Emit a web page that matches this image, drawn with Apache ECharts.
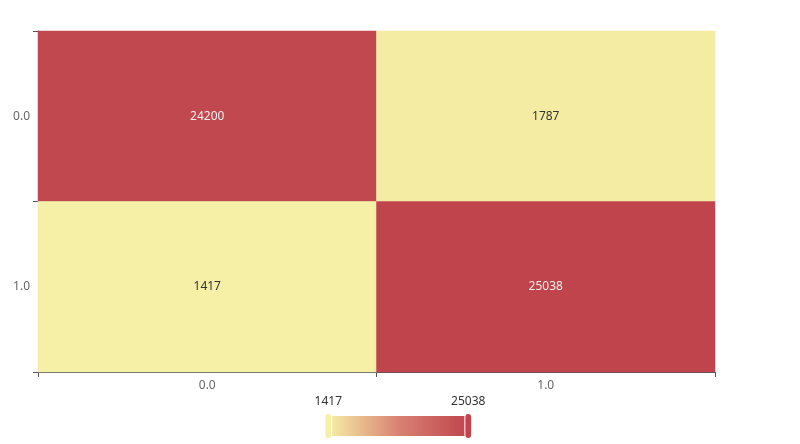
<!DOCTYPE html>
<html>
<head>
<meta charset="utf-8">
<script src="https://cdn.jsdelivr.net/npm/echarts@6/dist/echarts.min.js"></script>
<style>html,body{margin:0;padding:0;background:#fff}#chart{width:800px;height:444px}</style>
</head>
<body>
<div id="chart"></div>
<script>
// confusion matrix style heatmap
const xLabels = ['0.0', '1.0'];
const yLabels = ['0.0', '1.0'];
// [xIndex, yIndex, value]
const cells = [
  [0, 0, 24200],
  [1, 0, 1787],
  [0, 1, 1417],
  [1, 1, 25038]
];
const minVal = 1417;
const maxVal = 25038;

const chart = echarts.init(document.getElementById('chart'));
chart.setOption({
  animation: false,
  textStyle: { fontFamily: 'Noto Sans' },
  grid: { left: 38, right: 85, top: 31, bottom: 72 },
  xAxis: {
    type: 'category',
    data: xLabels,
    axisTick: { show: true },
    axisLabel: { color: '#666' },
    splitArea: { show: false }
  },
  yAxis: {
    type: 'category',
    data: yLabels,
    inverse: true,
    axisTick: { show: true },
    axisLabel: { color: '#666' },
    splitArea: { show: false }
  },
  visualMap: {
    min: minVal,
    max: maxVal,
    calculable: true,
    orient: 'horizontal',
    left: 'center',
    bottom: -10,
    textStyle: { color: '#333' },
    inRange: { color: ['#f6efa6', '#d88273', '#bf444c'] }
  },
  series: [{
    type: 'heatmap',
    data: cells,
    label: { show: true }
  }]
});
</script>
</body>
</html>
